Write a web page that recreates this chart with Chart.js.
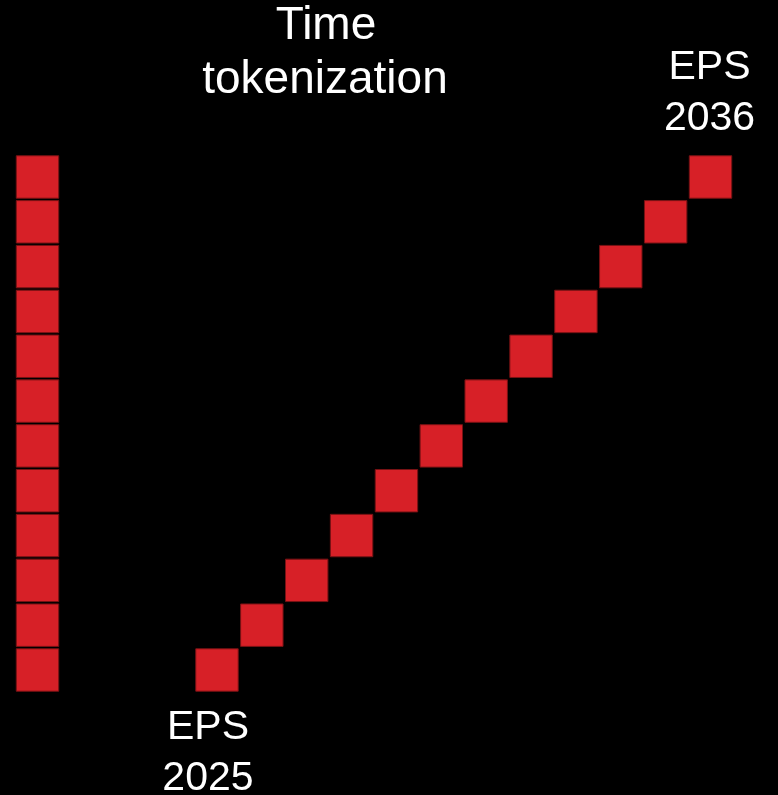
<!DOCTYPE html>
<html>
<head>
<meta charset="utf-8">
<title>Time tokenization</title>
<script src="https://cdn.jsdelivr.net/npm/chart.js@4/dist/chart.umd.min.js"></script>
<style>
  html, body { margin: 0; padding: 0; background: #000; }
  #wrap { position: relative; width: 778px; height: 795px; }
</style>
</head>
<body>
<div id="wrap"><canvas id="chart"></canvas></div>
<script>
// data
const steps = [0, 1, 2, 3, 4, 5, 6, 7, 8, 9, 10, 11];
const stackCol = [0, 0, 0, 0, 0, 0, 0, 0, 0, 0, 0, 0];
const diagCol = [4, 5, 6, 7, 8, 9, 10, 11, 12, 13, 14, 15];
const years = [2025, 2026, 2027, 2028, 2029, 2030, 2031, 2032, 2033, 2034, 2035, 2036];
const titleLines = ['Time', 'tokenization'];

const red = 'rgb(215,32,39)';
const edge = 'rgb(120,18,20)';

function pts(xs, ys) { return xs.map((x, i) => ({ x: x, y: ys[i] })); }

const squareStyle = {
  pointStyle: 'rect',
  pointRadius: 30,
  pointHoverRadius: 30,
  backgroundColor: red,
  borderColor: edge,
  borderWidth: 1,
  showLine: false,
  clip: false
};

// labels under the first and above the last diagonal square + title
const textPlugin = {
  id: 'texts',
  afterDatasetsDraw(chart) {
    const c = chart.ctx;
    const xs = chart.scales.x, ys = chart.scales.y;
    c.save();
    c.fillStyle = '#fff';
    c.textAlign = 'center';
    c.textBaseline = 'alphabetic';
    c.font = '41px "Liberation Sans", Helvetica, Arial, sans-serif';

    const first = 0, last = years.length - 1;
    let x0 = xs.getPixelForValue(diagCol[first]) - 9;
    let y0 = ys.getPixelForValue(steps[first]);
    c.fillText('EPS', x0, y0 + 69);
    c.fillText(String(years[first]), x0, y0 + 120);

    let x1 = xs.getPixelForValue(diagCol[last]) - 1;
    let y1 = ys.getPixelForValue(steps[last]);
    c.fillText('EPS', x1, y1 - 98);
    c.fillText(String(years[last]), x1, y1 - 47);

    c.font = '46px "Liberation Sans", Helvetica, Arial, sans-serif';
    c.fillText(titleLines[0], 326, 39);
    c.fillText(titleLines[1], 325, 93);
    c.restore();
  }
};

const ctx = document.getElementById('chart');

new Chart(ctx, {
  type: 'scatter',
  data: {
    datasets: [
      Object.assign({ label: 'stack', data: pts(stackCol, steps) }, squareStyle),
      Object.assign({ label: 'timeline', data: pts(diagCol, steps) }, squareStyle)
    ]
  },
  options: {
    responsive: true,
    maintainAspectRatio: false,
    animation: false,
    layout: { padding: 0, autoPadding: false },
    plugins: { legend: { display: false }, tooltip: { enabled: false } },
    scales: {
      x: { type: 'linear', display: false, min: -0.836, max: 16.504 },
      y: { type: 'linear', display: false, min: -2.789, max: 14.949 }
    }
  },
  plugins: [textPlugin]
});
</script>
</body>
</html>
